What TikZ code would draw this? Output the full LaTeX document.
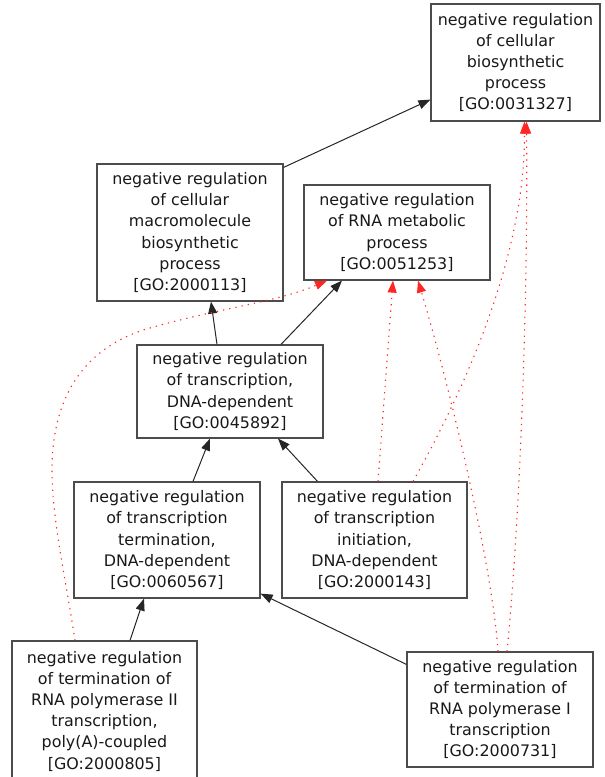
\documentclass[tikz,border=0pt]{standalone}
\usepackage{fontspec}
\setmainfont{DejaVu Sans}
\usetikzlibrary{arrows.meta}
\begin{document}
\begin{tikzpicture}[x=1pt,y=-1pt,
  gobox/.style={draw=black!70, line width=1.2pt, fill=white, align=center, inner sep=0pt,
    text=black!90, font=\fontsize{15.9}{21.2}\selectfont},
  isa/.style={draw=black!85, line width=1pt, -{Triangle[length=12pt,width=9pt]}},
  reg/.style={draw=red!85, line width=1.1pt, dash pattern=on 1.3pt off 5pt,
    -{Triangle[length=12pt,width=9pt]}},
]
\useasboundingbox (0,0) rectangle (605,777);

\node[gobox, minimum width=169pt, minimum height=117pt] (A) at (515.5,62.5)
  {negative regulation\\of cellular\\biosynthetic\\process\\{}[GO:0031327]};
\node[gobox, minimum width=186pt, minimum height=137pt] (B) at (190,232.5)
  {negative regulation\\of cellular\\macromolecule\\biosynthetic\\process\\{}[GO:2000113]};
\node[gobox, minimum width=186pt, minimum height=95pt] (C) at (397,232.5)
  {negative regulation\\of RNA metabolic\\process\\{}[GO:0051253]};
\node[gobox, minimum width=186pt, minimum height=93pt] (D) at (230,391.5)
  {negative regulation\\of transcription,\\DNA-dependent\\{}[GO:0045892]};
\node[gobox, minimum width=186pt, minimum height=116pt] (E) at (167,540)
  {negative regulation\\of transcription\\termination,\\DNA-dependent\\{}[GO:0060567]};
\node[gobox, minimum width=185pt, minimum height=116pt] (F) at (374.5,540)
  {negative regulation\\of transcription\\initiation,\\DNA-dependent\\{}[GO:2000143]};
\node[gobox, minimum width=185pt, minimum height=140pt] (G) at (104.5,711)
  {negative regulation\\of termination of\\RNA polymerase II\\transcription,\\poly(A)-coupled\\{}[GO:2000805]};
\node[gobox, minimum width=186pt, minimum height=115pt] (H) at (500,709.5)
  {negative regulation\\of termination of\\RNA polymerase I\\transcription\\{}[GO:2000731]};

% is_a edges
\draw[isa] ([yshift=-4pt]B.north east) -- ([yshift=22pt]A.south west);
\draw[isa] ([xshift=-13pt]D.north) -- ([xshift=21pt]B.south);
\draw[isa] ([xshift=51pt]D.north) -- ([xshift=-55pt]C.south);
\draw[isa] ([xshift=26pt]E.north) -- ([xshift=-20pt]D.south);
\draw[isa] ([xshift=-57pt]F.north) -- ([xshift=48pt]D.south);
\draw[isa] ([xshift=25.5pt]G.north) -- ([xshift=-23pt]E.south);
\draw[isa] ([yshift=-13pt]H.north west) -- ([yshift=5pt]E.south east);

% negatively regulates edges
\draw[reg] ([xshift=-29.5pt]G.north) .. controls (66,580) and (52,520) .. (52,470)
  .. controls (52,390) and (90,345) .. (150,328)
  .. controls (220,308) and (277,302) .. ([xshift=-70pt]C.south);
\draw[reg] ([xshift=3.5pt]F.north) -- ([xshift=-4pt]C.south);
\draw[reg] ([xshift=38.5pt]F.north) .. controls (470,380) and (525,250) .. ([xshift=9pt]A.south);
\draw[reg] ([xshift=-2pt]H.north) .. controls (492,560) and (445,370) .. ([xshift=21pt]C.south);
\draw[reg] ([xshift=7pt]H.north) .. controls (520,520) and (528,300) .. ([xshift=11pt]A.south);
\end{tikzpicture}
\end{document}
